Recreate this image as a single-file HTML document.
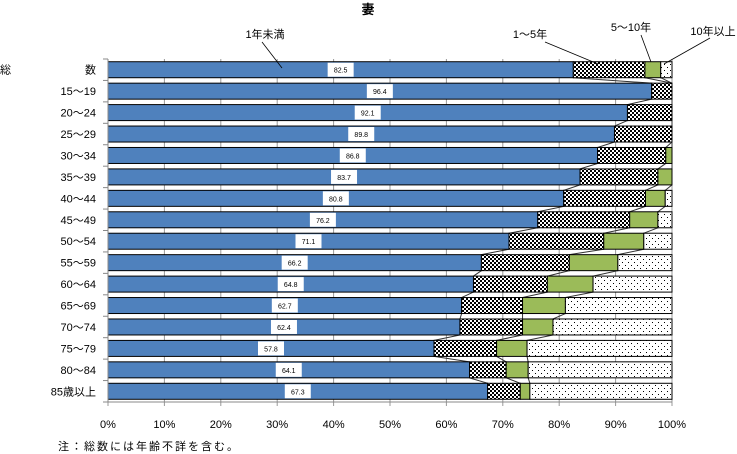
<!DOCTYPE html>
<html><head><meta charset="utf-8"><style>
body{margin:0;background:#fff;}
svg{display:block;font-family:"Liberation Sans","Noto Sans CJK JP",sans-serif;}
</style></head><body>
<svg id="c" width="737" height="454" viewBox="0 0 737 454">
<defs>
<pattern id="chk" width="4" height="4" patternUnits="userSpaceOnUse"><rect width="4" height="4" fill="#fff"/><rect width="2" height="2" fill="#000"/><rect x="2" y="2" width="2" height="2" fill="#000"/></pattern>
<pattern id="dot" width="6" height="6" patternUnits="userSpaceOnUse"><rect width="6" height="6" fill="#fff"/><rect x="1" y="1" width="1" height="1" fill="#000"/><rect x="4" y="4" width="1" height="1" fill="#000"/></pattern>
</defs>
<text x="368" y="14" font-size="13" font-weight="bold" text-anchor="middle">妻</text>
<text x="58" y="450" font-size="11" letter-spacing="2">注：総数には年齢不詳を含む。</text>
</svg>
<script>
const categories=["総　　　数","15～19","20～24","25～29","30～34","35～39","40～44","45～49","50～54","55～59","60～64","65～69","70～74","75～79","80～84","85歳以上"];
const lt1=[82.5,96.4,92.1,89.8,86.8,83.7,80.8,76.2,71.1,66.2,64.8,62.7,62.4,57.8,64.1,67.3];
const y1to5=[12.7,3.6,7.9,10.2,12.1,13.8,14.5,16.3,16.8,15.6,13.1,10.8,11.1,11.1,6.5,5.8];
const y5to10=[2.8,0,0,0,1.1,2.5,3.5,5.0,7.1,8.6,8.1,7.6,5.4,5.4,3.9,1.7];
const xTicks=[0,10,20,30,40,50,60,70,80,90,100];
const series=[{name:"lt1",vals:lt1,fill:"#4f81bd"},{name:"1to5",vals:y1to5,fill:"url(#chk)"},{name:"5to10",vals:y5to10,fill:"#9bbb59"},{name:"ge10",vals:lt1.map((v,i)=>Math.max(0,100-v-y1to5[i]-y5to10[i])),fill:"url(#dot)"}];
const NS="http://www.w3.org/2000/svg",svg=document.getElementById('c');
const X0=108,X1=672,Y0=59,Y1=402,n=categories.length,pitch=(Y1-Y0)/n,bh=16;
const xs=v=>X0+(X1-X0)*v/100, yt=i=>Y0+pitch*i+(pitch-bh)/2;
function mk(t,a,p){const e=document.createElementNS(NS,t);for(const k in a)e.setAttribute(k,a[k]);(p||svg).appendChild(e);return e;}
const g=mk('g',{});

xTicks.forEach(t=>{mk('line',{x1:xs(t),x2:xs(t),y1:Y0,y2:Y1+4,stroke:'#999','stroke-width':1},g);
const tx=mk('text',{x:xs(t),y:428,'font-size':11,'text-anchor':'middle'});tx.textContent=t+'%';
});
const cums=lt1.map((v,i)=>{let c=0;return series.map(s=>c+=s.vals[i]);});
for(let i=0;i<n-1;i++){for(let k=0;k<3;k++){const l=mk('line',{x1:xs(cums[i][k]),y1:yt(i)+bh,x2:xs(cums[i+1][k]),y2:yt(i+1),stroke:'#333','stroke-width':1});
}}
categories.forEach((c,i)=>{let acc=0;
series.forEach(s=>{const v=s.vals[i];if(v>0){const r=mk('rect',{x:xs(acc),y:yt(i),width:xs(acc+v)-xs(acc),height:bh,fill:s.fill,stroke:'#000','stroke-width':1});
}acc+=v;});
const cx=xs(lt1[i]/2);
const b=mk('rect',{x:cx-13,y:yt(i)+1,width:26,height:14,fill:'#fff'});

const t=mk('text',{x:cx,y:yt(i)+11,'font-size':7,'text-anchor':'middle'});t.textContent=lt1[i].toFixed(1);

const yl=mk('text',{x:i==0?0:96,y:yt(i)+12,'font-size':11,'text-anchor':i==0?'start':'end'});
if(i==0){yl.textContent='総';const y2=mk('text',{x:96,y:yt(i)+12,'font-size':11,'text-anchor':'end'});y2.textContent='数';}else yl.textContent=c;

mk('line',{x1:X0-5,x2:X0,y1:Y0+pitch*i,y2:Y0+pitch*i,stroke:'#888'});});
mk('line',{x1:X0-5,x2:X0,y1:Y1,y2:Y1,stroke:'#888'});
mk('line',{x1:X0,x2:X0,y1:Y0,y2:Y1,stroke:'#888'});
mk('line',{x1:X0,x2:X1,y1:Y1,y2:Y1,stroke:'#888'});
const legs=[["1年未満",252,42,282,68,265,38],["1～5年",535,42,598,64,530,38],["5～10年",631,35,651,62,631,31],["10年以上",700,38,664,64,713,35]];
legs.forEach(L=>{const l=mk('line',{x1:L[1]+10,y1:L[2],x2:L[3],y2:L[4],stroke:'#000','stroke-width':0.8});

const t=mk('text',{x:L[5],y:L[6],'font-size':11,'text-anchor':'middle'});t.textContent=L[0];
});
</script>
</body></html>
